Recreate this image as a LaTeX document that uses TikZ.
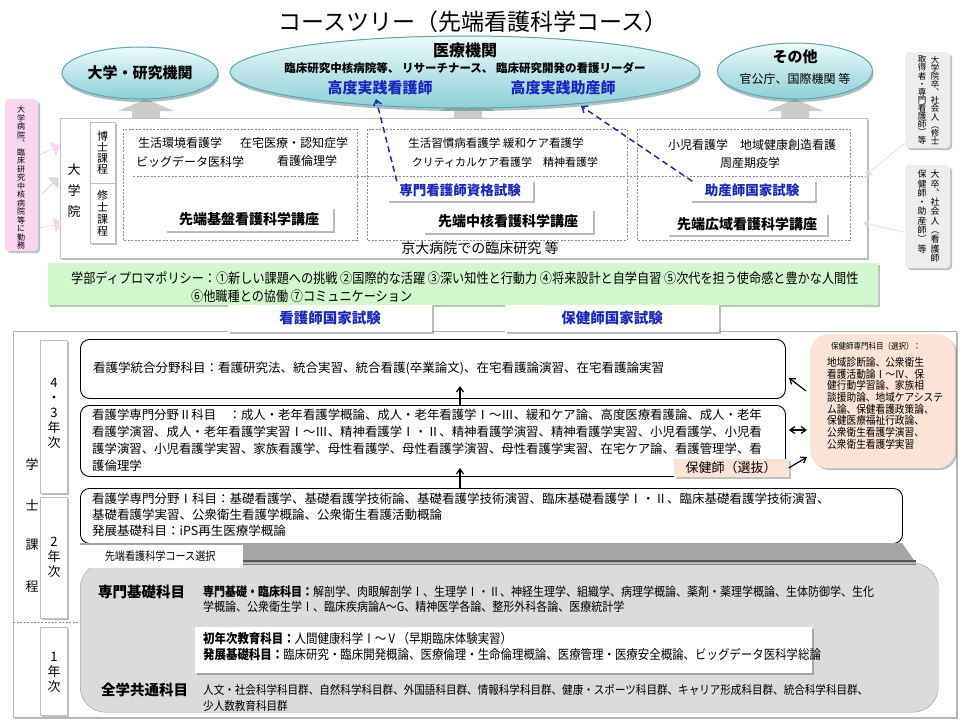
\documentclass[tikz,border=0pt]{standalone}
\usepackage{fontspec}
\setmainfont{Noto Sans CJK JP}
\newfontfamily\jpn{Noto Sans CJK JP}[FakeStretch=0.88]
\usepackage{tikz}
\usetikzlibrary{calc}
\usetikzlibrary{shapes.geometric,shapes.arrows,shadows}
\usetikzlibrary{arrows.meta}

\definecolor{ovaltop}{RGB}{236,250,250}
\definecolor{ovalbot}{RGB}{140,208,216}
\definecolor{ovalline}{RGB}{95,165,175}
\definecolor{navy}{RGB}{25,40,185}
\definecolor{pinkfill}{RGB}{248,214,240}
\definecolor{peach}{RGB}{251,228,214}
\definecolor{mint}{RGB}{208,248,204}

\tikzset{oval/.style={ellipse,draw=ovalline,line width=1pt,top color=ovaltop,bottom color=ovalbot,
		drop shadow={shadow xshift=1pt,shadow yshift=-3pt,fill=ovalline!70!black,opacity=0.45}},
	whitebox/.style={draw=black!25,fill=white,
		drop shadow={shadow xshift=2pt,shadow yshift=-2pt,fill=black!60,opacity=0.45}},
	kozabox/.style={whitebox,draw=none,minimum height=24pt,font=\fontsize{14}{16}\selectfont\bfseries},
	examfont/.style={text=navy,font=\fontsize{13.5}{15}\selectfont\bfseries},
	dashbox/.style={draw=black!45,dash pattern=on 2pt off 1.5pt,line width=0.6pt},
	bluedash/.style={draw=navy,line width=1.5pt,dash pattern=on 6pt off 4pt,
		-{Straight Barb[length=5pt,width=8pt]}},
	blockarrow/.style={single arrow,draw=none,minimum width=16pt,single arrow head extend=4pt,inner sep=0pt},
	course/.style={draw=black,line width=0.9pt,rounded corners=9pt,fill=white,anchor=north west},
	yearbox/.style={whitebox,anchor=north west,minimum width=27pt},
	blkarrow/.style={line width=1.2pt,-{Straight Barb[length=5pt,width=7pt]}},
	peachbox/.style={fill=peach,draw=none,rounded corners=18pt,
		drop shadow={shadow xshift=2pt,shadow yshift=-2pt,fill=black!60,opacity=0.4}},
	pinkbox/.style={fill=pinkfill,draw=none,rounded corners=4pt,anchor=north west,
		drop shadow={shadow xshift=2pt,shadow yshift=-2pt,fill=black!60,opacity=0.4}},
	graybox/.style={fill=black!7,draw=none,rounded corners=4pt,anchor=north west,
		drop shadow={shadow xshift=2pt,shadow yshift=-2pt,fill=black!60,opacity=0.4}},
	vcol/.style={align=center,inner sep=0pt,anchor=north},
}

\begin{document}
\begin{tikzpicture}[x=1pt,y=-1pt]
	\tikzstyle{every node}=[font=\fontsize{12}{14}\selectfont,inner sep=1pt]
	\useasboundingbox (0,0) rectangle (960,720);
	
	\node[font=\fontsize{23}{26}\selectfont] (title) at (473,22) {コースツリー（先端看護科学コース）};
	
	% arrows up to the career ovals
	\foreach \ax in {146,468,795}
	\fill[black!20] (\ax-14,119) -- (\ax-14,111) -- (\ax-28,111) -- (\ax,99) -- (\ax+28,111) -- (\ax+14,111) -- (\ax+14,119) -- cycle;
	
	\node[oval,minimum width=156pt,minimum height=52pt,font=\fontsize{15}{17}\selectfont\bfseries] (univ) at (140,73) {大学・研究機関};
	\node[oval,minimum width=470pt,minimum height=72pt] (med) at (465,72) {};
	\node[font=\fontsize{16}{18}\selectfont\bfseries] (medtitle) at (465,50) {医療機関};
	\node[font=\fontsize{11.5}{13}\selectfont\bfseries] (medsub) at (465,68) {臨床研究中核病院等、\ リサーチナース、\ 臨床研究開発の看護リーダー};
	\node[font=\fontsize{15}{17}\selectfont\bfseries,text=navy] (apn) at (380,88) {高度実践看護師};
	\node[font=\fontsize{15}{17}\selectfont\bfseries,text=navy] (apm) at (563,88) {高度実践助産師};
	\node[oval,minimum width=155pt,minimum height=56pt] (other) at (795,71) {};
	\node[font=\fontsize{15}{17}\selectfont\bfseries] (othertitle) at (795,57) {その他};
	\node (othersub) at (795,79) {官公庁、国際機関 等};
	
	% graduate school
	\node[whitebox,anchor=north west,minimum width=807pt,minimum height=140pt] (grad) at (60,118) {};
	\node[blockarrow,fill=black!15,minimum height=24pt,rotate=45] (gin) at (50,186) {};
	\node[blockarrow,fill=pinkfill,minimum height=26pt,rotate=25] (pin1) at (48,151) {};
	\node[blockarrow,fill=pinkfill,minimum height=26pt,rotate=12] (pin2) at (49,226) {};
	\node[pinkbox,minimum width=33pt,minimum height=152pt] (hosp) at (5,99) {};
	\node[vcol,font=\fontsize{8}{8.5}\selectfont] (hospt) at (21,106) {大\\学\\病\\院\\︑\\臨\\床\\研\\究\\中\\核\\病\\院\\等\\に\\勤\\務};
	
	\node[align=center,font=\fontsize{13}{21}\selectfont] (gradlabel) at (74,191) {大\\学\\院};
	\node[whitebox,anchor=north west,minimum width=25pt,minimum height=61pt,align=center,font=\fontsize{11}{11}\selectfont] (dr) at (90,122) {博\\士\\課\\程};
	\node[whitebox,anchor=north west,minimum width=25pt,minimum height=60pt,align=center,font=\fontsize{11}{12}\selectfont] (ms) at (90,183) {修\\士\\課\\程};
	
	\foreach \xa/\xb in {123/357,367/627,637/850}
	\draw[dashbox] (\xa,129) rectangle (\xb,240);
	\draw[dashbox] (133,176) -- (865,176);
	
	\node (k1) at (180,143) {生活環境看護学};
	\node (k2) at (294,143) {在宅医療・認知症学};
	\node (k3) at (190,162) {ビッグデータ医科学};
	\node (k4) at (307,161) {看護倫理学};
	\node[kozabox,minimum width=168pt] (kiban) at (249,219) {先端基盤看護科学講座};
	
	\node[font=\fontsize{11.5}{13}\selectfont] (c1) at (496,143) {生活習慣病看護学 緩和ケア看護学};
	\node[font=\fontsize{11}{13}\selectfont] (c2) at (505,162) {クリティカルケア看護学　精神看護学};
	\node[kozabox,examfont,minimum width=146pt,minimum height=21pt] (cnsexam) at (460,190) {専門看護師資格試験};
	\node[kozabox,minimum width=170pt] (chukaku) at (508,221) {先端中核看護科学講座};
	
	\node (w1) at (752,145) {小児看護学　地域健康創造看護};
	\node (w2) at (750,163) {周産期疫学};
	\node[kozabox,examfont,minimum width=125pt,minimum height=21pt] (mwexam) at (752,190) {助産師国家試験};
	\node[kozabox,minimum width=160pt,minimum height=22pt] (kouiki) at (747,224) {先端広域看護科学講座};
	
	\node[font=\fontsize{14}{16}\selectfont] (kuhp) at (480,248) {京大病院での臨床研究\ 等};
	
	\coordinate (apntip) at (376,99);
	\coordinate (apmtip) at (581,106);
	\draw[bluedash] ($(cnsexam.north west)+(10,2)$) -- (apntip);
	\draw[bluedash] ($(mwexam.north west)+(3,2)$) -- (apmtip);
	
	% entrants from outside
	\node[blockarrow,fill=black!15,minimum height=56pt,minimum width=9pt,single arrow head extend=3pt,rotate=219] (gin2) at (888,157) {};
	\node[blockarrow,fill=black!15,minimum height=45pt,minimum width=9pt,single arrow head extend=3pt,rotate=167] (gin3) at (886,228) {};
	\node[graybox,minimum width=45pt,minimum height=96pt] (mscareer) at (905,52) {};
	\node[vcol,font=\fontsize{8.5}{8.1}\selectfont] (msc1) at (935,56) {大\\学\\院\\卒\\︑\\社\\会\\人\\︵\\修\\士};
	\node[vcol,font=\fontsize{8.5}{8.1}\selectfont] (msc2) at (922,56) {取\\得\\者\\・\\専\\門\\看\\護\\師\\︶\\等};
	\node[graybox,minimum width=45pt,minimum height=103pt] (bscareer) at (905,165) {};
	\node[vcol,font=\fontsize{9}{9.3}\selectfont] (bsc1) at (935,170) {大\\卒\\︑\\社\\会\\人\\︵\\看\\護\\師};
	\node[vcol,font=\fontsize{9}{9.3}\selectfont] (bsc2) at (922,170) {保\\健\\師\\・\\助\\産\\師\\︶\\等};
	
	% diploma policy
	\node[anchor=north west,fill=mint,minimum width=830pt,minimum height=42pt,
	drop shadow={shadow xshift=2pt,shadow yshift=-2pt,fill=black!60,opacity=0.4}] (dp) at (48,263) {};
	\node[anchor=west,font=\jpn\fontsize{13.8}{15}\selectfont] (dp1) at (70,278) {学部ディプロマポリシー：①新しい課題への挑戦\ ②国際的な活躍\ ③深い知性と行動力\ ④将来設計と自学自習\ ⑤次代を担う使命感と豊かな人間性};
	\node[anchor=west,font=\jpn\fontsize{13.8}{15}\selectfont] (dp2) at (190,296) {⑥他職種との協働\ ⑦コミュニケーション};
	
	% bachelor course
	\node[whitebox,draw=black!30,anchor=north west,minimum width=943pt,minimum height=386pt] (bach) at (13,331) {};
	\node[kozabox,minimum width=204pt,minimum height=27pt,text=navy,font=\fontsize{14.5}{16}\selectfont\bfseries] (nsexam) at (330,318) {看護師国家試験};
	\node[kozabox,minimum width=214pt,minimum height=27pt,text=navy,font=\fontsize{14.5}{16}\selectfont\bfseries] (phexam) at (612,318) {保健師国家試験};
	
	\foreach \ch/\cy in {学/465,士/505,課/545,程/587}
	\node[font=\fontsize{13}{15}\selectfont] (bc\cy) at (32,\cy) {\ch};
	
	\node[yearbox,minimum height=153pt] (yr43) at (40,340) {};
	\node[align=center,font=\fontsize{13}{15}\selectfont] (yr43t) at (54,413) {4\\・\\3\\年\\次};
	\node[yearbox,minimum height=121pt] (yr2) at (40,497) {};
	\node[align=center,font=\fontsize{13}{15}\selectfont] (yr2t) at (54,557) {2\\年\\次};
	\draw[dashbox] (13,622) -- (80,622);
	\node[yearbox,minimum height=88pt] (yr1) at (40,627) {};
	\node[align=center,font=\fontsize{13}{15}\selectfont] (yr1t) at (54,672) {1\\年\\次};
	
	\node[course,minimum width=705pt,minimum height=59pt] (boxA) at (80,339) {};
	\node[anchor=west,font=\fontsize{12.5}{15}\selectfont] (boxAt) at (92,368) {看護学統合分野科目：看護研究法、統合実習、統合看護(卒業論文)、在宅看護論演習、在宅看護論実習};
	\node[course,minimum width=705pt,minimum height=71pt] (boxB) at (80,405) {};
	\node[anchor=north west,align=left,inner sep=0pt,font=\fontsize{12.4}{17}\selectfont] (boxBt) at (92,409) {看護学専門分野Ⅱ科目　：成人・老年看護学概論、成人・老年看護学Ⅰ～Ⅲ、緩和ケア論、高度医療看護論、成人・老年\\
		看護学演習、成人・老年看護学実習Ⅰ～Ⅲ、精神看護学Ⅰ・Ⅱ、精神看護学演習、精神看護学実習、小児看護学、小児看\\
		護学演習、小児看護学実習、家族看護学、母性看護学、母性看護学演習、母性看護学実習、在宅ケア論、看護管理学、看\\
		護倫理学};
	\node[course,minimum width=822pt,minimum height=55pt] (boxC) at (80,488) {};
	\node[anchor=north west,align=left,inner sep=0pt,font=\fontsize{12.5}{16}\selectfont] (boxCt) at (92,493) {看護学専門分野Ⅰ科目：基礎看護学、基礎看護学技術論、基礎看護学技術演習、臨床基礎看護学Ⅰ・Ⅱ、臨床基礎看護学技術演習、\\
		基礎看護学実習、公衆衛生看護学概論、公衆衛生看護活動概論\\
		発展基礎科目：iPS再生医療学概論};
	
	\coordinate (upAB) at (460,386);
	\coordinate (upBC) at (460,468);
	\draw[blkarrow] (upAB |- boxB.north) -- (upAB);
	\draw[blkarrow] (upBC |- boxC.north) -- (upBC);
	
	% public health nurse subjects
	\node[peachbox,anchor=north west,minimum width=145pt,minimum height=134pt] (phsub) at (810,334) {};
	\node[anchor=west,font=\jpn\fontsize{8.5}{9}\selectfont] (phsubh) at (830,346) {保健師専門科目（選択）：};
	\node[anchor=north west,align=left,inner sep=0pt,font=\jpn\fontsize{11}{11.7}\selectfont] (phsubt) at (827,357) {地域診断論、公衆衛生\\看護活動論Ⅰ～Ⅳ、保\\健行動学習論、家族相\\談援助論、地域ケアシステ\\ム論、保健看護政策論、\\保健医療福祉行政論、\\公衆衛生看護学演習、\\公衆衛生看護学実習};
	\node[peachbox,rounded corners=0pt,minimum width=115pt,minimum height=18pt,font=\fontsize{13}{14}\selectfont] (phpick) at (731,468) {保健師（選抜）};
	
	\coordinate (phA) at (806,391);
	\coordinate (phB) at (807,430);
	\coordinate (phC) at (807,457);
	\draw[blkarrow] (phA) -- ($(boxA.south east)+(3,-21)$);
	\draw[blkarrow,{Straight Barb[length=5pt,width=7pt]}-{Straight Barb[length=5pt,width=7pt]}] ($(boxB.north east)+(3,25)$) -- (phB);
	\draw[blkarrow] (phpick.east) -- (phC);
	
	% basic subjects
	\fill[black!35] (80,543) -- (902,543) -- (916,563) -- (80,563) -- cycle;
	\node[anchor=north west,fill=black!14,draw=black!40,rounded corners=25pt,minimum width=858pt,minimum height=149pt] (kiso) at (80,563) {};
	\draw[black!65,line width=1.2pt] (242,561) -- (916,561);
	\draw[black!50,line width=0.8pt] (242,564.5) -- (916,564.5);
	\node[draw=black,double,fill=white,anchor=north west,minimum width=164pt,minimum height=22pt,font=\jpn\fontsize{11.5}{13}\selectfont] (sel) at (78,545) {先端看護科学コース選択};
	
	\node[anchor=west,font=\fontsize{14.5}{16}\selectfont\bfseries] (kisoT) at (97,592) {専門基礎科目};
	\node[anchor=north west,align=left,inner sep=0pt,font=\jpn\fontsize{12.5}{15}\selectfont] (kisoL) at (203,586) {{\bfseries 専門基礎・臨床科目：}解剖学、肉眼解剖学Ⅰ、生理学Ⅰ・Ⅱ、神経生理学、組織学、病理学概論、薬剤・薬理学概論、生体防御学、生化\\学概論、公衆衛生学Ⅰ、臨床疾病論A～G、精神医学各論、整形外科各論、医療統計学};
	\node[whitebox,draw=none,anchor=north west,minimum width=617pt,minimum height=46pt] (first) at (195,627) {};
	\node[anchor=north west,align=left,inner sep=0pt,font=\jpn\fontsize{13}{16.5}\selectfont] (firstT) at (203,632) {{\bfseries 初年次教育科目：}人間健康科学Ⅰ～Ⅴ（早期臨床体験実習）\\{\bfseries 発展基礎科目：}臨床研究・臨床開発概論、医療倫理・生命倫理概論、医療管理・医療安全概論、ビッグデータ医科学総論};
	\node[anchor=west,font=\fontsize{14.5}{16}\selectfont\bfseries] (zenT) at (100,690) {全学共通科目};
	\node[anchor=north west,align=left,inner sep=0pt,font=\jpn\fontsize{12}{16}\selectfont] (zenL) at (203,684) {人文・社会科学科目群、自然科学科目群、外国語科目群、情報科学科目群、健康・スポーツ科目群、キャリア形成科目群、統合科学科目群、\\少人数教育科目群};
	
\end{tikzpicture}
\end{document}
